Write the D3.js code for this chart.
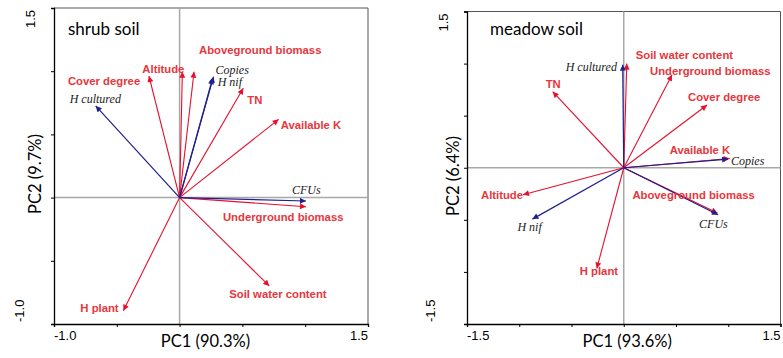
<!DOCTYPE html>
<html><head><meta charset="utf-8">
<script src="https://cdn.jsdelivr.net/npm/d3@7/dist/d3.min.js"></script>
<style>body{margin:0;background:#fff}svg{display:block}</style>
</head><body>
<svg id="c" width="783" height="358"></svg>
<script>
// ---------- DATA ----------
const shrubVars = ["H cultured","Cover degree","Altitude","Aboveground biomass","Copies","H nif","TN","Available K","CFUs","Underground biomass","Soil water content","H plant"];
const shrubPC1  = [-0.668,-0.244,0.022,0.115,0.270,0.263,0.507,0.789,1.006,1.006,0.714,-0.448];
const shrubPC2  = [0.725,0.962,0.996,0.996,0.957,0.944,0.865,0.619,-0.027,-0.072,-0.699,-0.895];
const shrubKind = ["m","e","e","e","m","m","e","e","m","e","e","e"];

const meadowVars = ["H cultured","Soil water content","Underground biomass","Cover degree","TN","Available K","Copies","Altitude","Aboveground biomass","H nif","CFUs","H plant"];
const meadowPC1  = [-0.010,0.029,0.462,0.797,-0.680,1.014,0.998,-0.964,0.896,-0.874,0.903,-0.258];
const meadowPC2  = [0.990,1.000,0.893,0.602,0.730,0.089,0.083,-0.259,-0.435,-0.493,-0.451,-0.967];
const meadowKind = ["m","e","e","e","e","e","m","e","e","m","m","e"];

const panelTitles = ["shrub soil","meadow soil"];
const xTitles = ["PC1 (90.3%)","PC1 (93.6%)"];
const yTitles = ["PC2 (9.7%)","PC2 (6.4%)"];
const shrubDomain = [-1.0,1.5];
const meadowDomain = [-1.5,1.5];
const shrubTicks = [-1.0,-0.5,0,0.5,1.0,1.5];
const meadowTicks = [-1.5,-1.0,-0.5,0,0.5,1.0,1.5];
const shrubTickLabels = ["-1.0","1.5"];
const meadowTickLabels = ["-1.5","1.5"];

// ---------- LAYOUT (label offsets from arrow tip, px) ----------
const shrubOff = {"H cultured":[-26,-3],"Cover degree":[-81,9],"Altitude":[-40,1.5],"Aboveground biomass":[5,-18],
  "Copies":[2,-3],"H nif":[5,8],"TN":[4,15.5],"Available K":[2,9.5],"CFUs":[-14,-7],
  "Underground biomass":[-83,14],"Soil water content":[-40,12.5],"H plant":[-43,1]};
const meadowOff = {"H cultured":[-57,6],"Soil water content":[9,-5],"Underground biomass":[-22,0],"Cover degree":[-19,-4],
  "TN":[-7,-4],"Available K":[-60,-4.5],"Copies":[3,6],"Altitude":[-42,4.5],"Aboveground biomass":[-85,-14],
  "H nif":[-15,12],"CFUs":[-19,13],"H plant":[-17,7]};

const RED="#e5102e", RED_T="#e8363c", BLUE="#1f1f8f";
const svg = d3.select("#c");
const defs = svg.append("defs");
[["r",RED],["b",BLUE]].forEach(([id,col])=>{
  defs.append("marker").attr("id","ah"+id).attr("viewBox","0 0 10 10").attr("refX",10).attr("refY",5)
    .attr("markerWidth",7).attr("markerHeight",6).attr("markerUnits","userSpaceOnUse").attr("orient","auto")
    .append("path").attr("d","M0,0L10,5L0,10Z").attr("fill",col);
});

function panel(cfg){
  const x = d3.scaleLinear().domain(cfg.dom).range([cfg.x0,cfg.x1]);
  const y = d3.scaleLinear().domain(cfg.dom).range([cfg.y1,cfg.y0]);
  const g = svg.append("g");
  // top/right border
  g.append("path").attr("d",`M${cfg.x0},${cfg.y0}H${cfg.x1}V${cfg.y1}`).attr("fill","none").attr("stroke","#555").attr("stroke-width",1);
  // zero lines
  g.append("line").attr("x1",x(0)).attr("x2",x(0)).attr("y1",cfg.y0).attr("y2",cfg.y1).attr("stroke","#a8a8a8").attr("stroke-width",1.5);
  g.append("line").attr("x1",cfg.x0).attr("x2",cfg.x1).attr("y1",y(0)).attr("y2",y(0)).attr("stroke","#a8a8a8").attr("stroke-width",1.5);
  // axes
  const ax = g.append("g").attr("transform",`translate(0,${cfg.y1})`)
    .call(d3.axisBottom(x).tickValues(cfg.ticks).tickSize(3).tickFormat(""));
  const ay = g.append("g").attr("transform",`translate(${cfg.x0},0)`)
    .call(d3.axisLeft(y).tickValues(cfg.ticks).tickSize(3).tickFormat(""));
  [ax,ay].forEach(a=>{a.select(".domain").attr("stroke","#000").attr("stroke-width",1.3);a.selectAll(".tick line").attr("stroke","#000");});
  // end tick labels
  const tf = "'Liberation Sans', Arial, sans-serif";
  g.append("text").attr("x",x(cfg.dom[0])).attr("y",340).attr("text-anchor","start").attr("font-family",tf).attr("font-size",13).text(cfg.tl[0]);
  g.append("text").attr("x",x(cfg.dom[1])).attr("y",340).attr("text-anchor","end").attr("font-family",tf).attr("font-size",13).text(cfg.tl[1]);
  g.append("text").attr("transform",`translate(${cfg.ylabHi},${y(cfg.dom[1])+2}) rotate(-90)`).attr("text-anchor","end").attr("font-family",tf).attr("font-size",13).text(cfg.tl[1]);
  g.append("text").attr("transform",`translate(${cfg.ylabLo},${y(cfg.dom[0])-2}) rotate(-90)`).attr("text-anchor","start").attr("font-family",tf).attr("font-size",13).text(cfg.tl[0]);
  // axis titles
  const af = "Lato, 'Open Sans', sans-serif";
  g.append("text").attr("x",(cfg.x0+cfg.x1)/2+cfg.xtShift).attr("y",347).attr("text-anchor","middle").attr("font-family",af).attr("font-size",16.5).text(cfg.xt);
  g.append("text").attr("transform",`translate(${cfg.ytx},${cfg.yty}) rotate(-90)`).attr("text-anchor","middle").attr("font-family",af).attr("font-size",16.5).text(cfg.yt);
  // panel title
  g.append("text").attr("x",cfg.x0+cfg.titleDx).attr("y",35).attr("font-family",af).attr("font-size",17).text(cfg.title);
  // arrows
  const data = cfg.vars.map((v,i)=>({v,p1:cfg.p1[i],p2:cfg.p2[i],k:cfg.kind[i]}));
  // draw red first then blue
  data.slice().sort((a,b)=>(a.k==="m")-(b.k==="m")).forEach(d=>{
    g.append("line").attr("x1",x(0)).attr("y1",y(0)).attr("x2",x(d.p1)).attr("y2",y(d.p2))
      .attr("stroke",d.k==="m"?BLUE:RED).attr("stroke-width",d.k==="m"?1.2:1.1)
      .attr("marker-end",`url(#ah${d.k==="m"?"b":"r"})`);
  });
  data.forEach(d=>{
    const o = cfg.off[d.v];
    const t = g.append("text").attr("x",x(d.p1)+o[0]).attr("y",y(d.p2)+o[1]).text(d.v);
    if(d.k==="m") t.attr("font-family","'Liberation Serif','Times New Roman',serif").attr("font-style","italic").attr("font-size",12).attr("fill","#222");
    else t.attr("font-family","'Liberation Sans', Arial, sans-serif").attr("font-weight","bold").attr("font-size",11.3).attr("fill",RED_T);
  });
}

panel({x0:54,x1:368,y0:8,y1:324,dom:shrubDomain,ticks:shrubTicks,tl:shrubTickLabels,
  vars:shrubVars,p1:shrubPC1,p2:shrubPC2,kind:shrubKind,off:shrubOff,
  xt:xTitles[0],yt:yTitles[0],title:panelTitles[0],titleDx:14,xtShift:-5.5,ytx:41,yty:174,ylabHi:35,ylabLo:24});
panel({x0:467,x1:780.5,y0:11.5,y1:324,dom:meadowDomain,ticks:meadowTicks,tl:meadowTickLabels,
  vars:meadowVars,p1:meadowPC1,p2:meadowPC2,kind:meadowKind,off:meadowOff,
  xt:xTitles[1],yt:yTitles[1],title:panelTitles[1],titleDx:23,xtShift:3.5,ytx:459,yty:176,ylabHi:448,ylabLo:435});
</script>
</body></html>
